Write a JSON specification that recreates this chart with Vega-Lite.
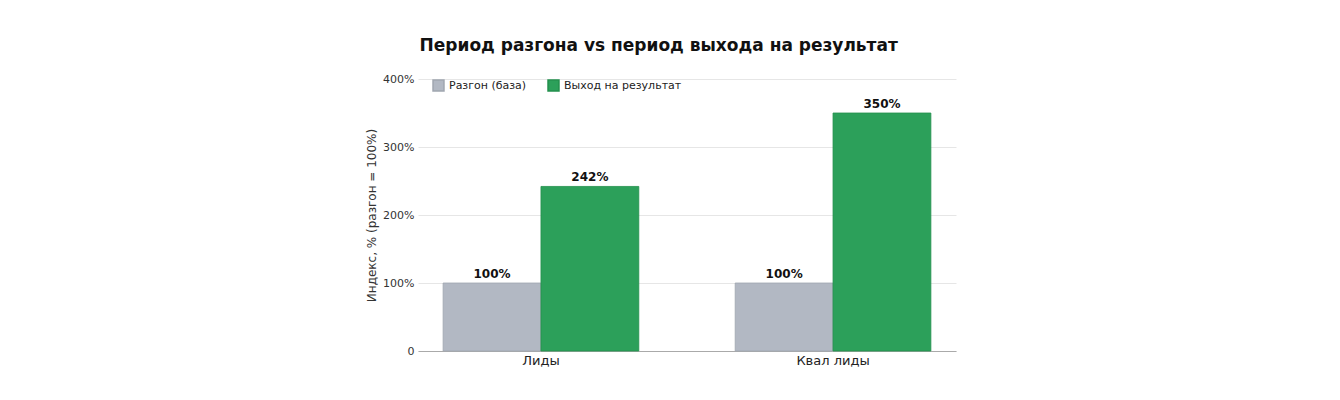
{
  "$schema": "https://vega.github.io/schema/vega-lite/v6.json",
  "background": "#ffffff",
  "autosize": "none",
  "width": 538,
  "height": 272,
  "padding": {"left": 418, "top": 79, "right": 384, "bottom": 49},
  "config": {"view": {"stroke": null}},
  "title": {"text": "Период разгона vs период выхода на результат", "font": "DejaVu Sans", "fontSize": 17, "fontWeight": "bold", "color": "#111111", "anchor": "start", "dx": 54, "offset": 18},
  "data": {"values": [
    {"metric": "Лиды", "period": "Разгон (база)", "value": 100, "label": "100%"},
    {"metric": "Лиды", "period": "Выход на результат", "value": 242, "label": "242%"},
    {"metric": "Квал лиды", "period": "Разгон (база)", "value": 100, "label": "100%"},
    {"metric": "Квал лиды", "period": "Выход на результат", "value": 350, "label": "350%"}
  ]},
  "encoding": {
    "x": {"field": "metric", "type": "nominal", "sort": ["Лиды", "Квал лиды"], "title": null,
      "scale": {"paddingInner": 0.33, "paddingOuter": 0.086},
      "axis": {"labelAngle": 0, "labelFontSize": 13, "labelFont": "DejaVu Sans", "labelColor": "#222222", "ticks": false, "domainColor": "#aaaaaa", "labelPadding": 3}},
    "xOffset": {"field": "period", "type": "nominal", "sort": ["Разгон (база)", "Выход на результат"], "scale": {"paddingInner": 0, "paddingOuter": 0}},
    "y": {"field": "value", "type": "quantitative", "scale": {"domain": [0, 400]},
      "title": "Индекс, % (разгон = 100%)",
      "axis": {"values": [0, 100, 200, 300, 400], "labelExpr": "datum.value == 0 ? '0' : datum.value + '%'", "domain": false, "ticks": false, "gridColor": "#e6e6e6", "labelFont": "DejaVu Sans", "labelFontSize": 11, "labelColor": "#333333", "titleFont": "DejaVu Sans", "titleFontSize": 12, "titleFontWeight": "normal", "titleColor": "#333333", "labelPadding": 4}}
  },
  "layer": [
    {"mark": {"type": "bar", "strokeWidth": 0.8},
      "encoding": {
        "color": {"field": "period", "type": "nominal", "sort": ["Разгон (база)", "Выход на результат"],
          "scale": {"domain": ["Разгон (база)", "Выход на результат"], "range": ["#b2b8c3", "#2ca05a"]},
          "legend": {"title": null, "orient": "none", "legendX": 14, "legendY": 0, "direction": "horizontal", "symbolType": "square", "symbolSize": 120, "labelFont": "DejaVu Sans", "labelFontSize": 11, "labelColor": "#222222", "columnPadding": 18}},
        "stroke": {"field": "period", "type": "nominal", "scale": {"domain": ["Разгон (база)", "Выход на результат"], "range": ["#a0a6b0", "#23904d"]}, "legend": null}
      }},
    {"mark": {"type": "text", "dy": -9, "font": "DejaVu Sans", "fontSize": 12, "fontWeight": "bold", "color": "#111111"},
      "encoding": {"text": {"field": "label", "type": "nominal"}}}
  ]
}
